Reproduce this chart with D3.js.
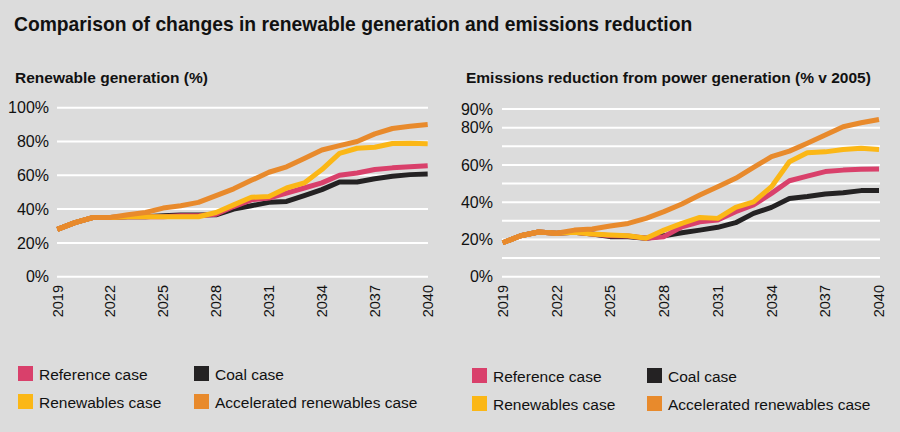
<!DOCTYPE html>
<html>
<head>
<meta charset="utf-8">
<script src="https://cdn.jsdelivr.net/npm/d3@7"></script>
<style>
  body { margin: 0; background: #dcdcdc; }
  svg { display: block; font-family: "Liberation Sans", Arial, Helvetica, sans-serif; }
</style>
</head>
<body>
<svg id="chart" width="900" height="432"></svg>
<script>
// years on the x axis
var years = [2019, 2020, 2021, 2022, 2023, 2024, 2025, 2026, 2027, 2028, 2029,
             2030, 2031, 2032, 2033, 2034, 2035, 2036, 2037, 2038, 2039, 2040];
var yearTicks = [2019, 2022, 2025, 2028, 2031, 2034, 2037, 2040];

// Renewable generation (%)
var genCoal        = [28, 32, 35, 35, 35.5, 35.5, 36, 36.5, 36.5, 36.6, 40, 42, 44, 44.5, 48, 51.5, 56, 56, 58, 59.4, 60.4, 60.8];
var genReference   = [28, 32, 35, 35, 35.5, 35.5, 35.5, 36, 36, 37, 41.5, 45.5, 46.5, 49.5, 52.5, 55.5, 60, 61.4, 63.4, 64.4, 65, 65.7];
var genRenewables  = [28, 32, 35, 35, 35.5, 35.5, 35.5, 35.5, 35.5, 38, 42.5, 47, 47.5, 52.5, 55.5, 63.4, 73, 76, 76.6, 78.8, 79, 78.6];
var genAccelerated = [28, 32, 35, 35, 36.6, 38, 40.6, 42, 44, 48, 52, 57, 61.8, 65, 70, 75, 77.6, 80, 84.5, 87.7, 89, 90];

// Emissions reduction from power generation (% v 2005)
var emCoal        = [18.2, 22, 24, 23.3, 23.8, 22.9, 21.5, 21.5, 20.6, 22, 23.6, 25, 26.5, 29, 34, 37.2, 42, 43, 44.4, 45, 46.2, 46.2];
var emReference   = [18.2, 22, 24, 23.3, 23.8, 22.9, 22, 21.8, 20.6, 21.5, 26.8, 29.5, 30.4, 34.9, 38.5, 44.7, 51.5, 54, 56.4, 57.2, 57.6, 57.8];
var emRenewables  = [18.2, 22, 24, 23.3, 23.8, 22.9, 22.4, 22, 20.6, 25, 28.6, 31.8, 31.3, 37.2, 40.2, 48.3, 61.7, 66.5, 67, 68.3, 68.9, 68.3];
var emAccelerated = [18.2, 22, 24, 23.3, 25, 25.6, 27.2, 28.6, 31.3, 34.9, 39, 43.8, 48.3, 52.8, 58.7, 64.4, 67.4, 71.6, 76, 80.5, 82.6, 84.4];

// tick labels / gridlines
var genGrid = [0, 20, 40, 60, 80, 100];
var genLabels = [0, 20, 40, 60, 80, 100];
var emGrid = [0, 10, 20, 30, 40, 50, 60, 70, 80, 90];
var emLabels = [0, 20, 40, 60, 80, 90];

var seriesNames = ["Coal case", "Reference case", "Renewables case", "Accelerated renewables case"];
var colors = {
    "Reference case": "#d9406b",
    "Coal case": "#242223",
    "Renewables case": "#fbb716",
    "Accelerated renewables case": "#e88a2c"
};
var legendOrder = [["Reference case", "Coal case"], ["Renewables case", "Accelerated renewables case"]];

var svg = d3.select("#chart");

// main title
svg.append("text")
    .attr("x", 14)
    .attr("y", 31)
    .style("font-size", "19.3px")
    .style("font-weight", "bold")
    .attr("fill", "#111")
    .text("Comparison of changes in renewable generation and emissions reduction");

function drawPanel(opts) {
    var x = d3.scaleLinear().domain([2019, 2040]).range(opts.xRange);
    var y = d3.scaleLinear().domain([0, opts.yMax]).range([276.7, opts.yTop]);

    var g = svg.append("g");

    // subtitle
    g.append("text")
        .attr("x", opts.titleX)
        .attr("y", 83)
        .style("font-size", "15.5px")
        .style("font-weight", "bold")
        .attr("fill", "#111")
        .text(opts.title);

    // gridlines
    g.selectAll(".grid")
        .data(opts.grid)
        .enter().append("line")
        .attr("x1", opts.gridX[0])
        .attr("x2", opts.gridX[1])
        .attr("y1", d => y(d))
        .attr("y2", d => y(d))
        .attr("stroke", "#fff")
        .attr("stroke-width", 2);

    // y tick labels
    g.selectAll(".ylab")
        .data(opts.labels)
        .enter().append("text")
        .attr("x", opts.labelX)
        .attr("y", d => y(d))
        .attr("dy", "0.35em")
        .attr("text-anchor", "end")
        .style("font-size", "16px")
        .attr("fill", "#111")
        .text(d => d + "%");

    // x tick labels, rotated
    g.selectAll(".xlab")
        .data(yearTicks)
        .enter().append("text")
        .attr("transform", d => "translate(" + x(d) + ",285) rotate(-90)")
        .attr("dy", "0.36em")
        .attr("text-anchor", "end")
        .style("font-size", "14.5px")
        .attr("fill", "#111")
        .text(d => d);

    // lines
    var line = d3.line()
        .x((d, i) => x(years[i]))
        .y(d => y(d));

    seriesNames.forEach(function (name, k) {
        g.append("path")
            .datum(opts.series[k])
            .attr("d", line)
            .attr("fill", "none")
            .attr("stroke", colors[name])
            .attr("stroke-width", 5)
            .attr("stroke-linejoin", "round");
    });

    // legend
    legendOrder.forEach(function (row, r) {
        row.forEach(function (name, c) {
            var lx = opts.legendX[c];
            var ly = opts.legendY[r];
            g.append("rect")
                .attr("x", lx)
                .attr("y", ly - 14)
                .attr("width", 15)
                .attr("height", 15)
                .attr("fill", colors[name]);
            g.append("text")
                .attr("x", lx + 21)
                .attr("y", ly)
                .style("font-size", "15.5px")
                .attr("fill", "#111")
                .text(name);
        });
    });
}

drawPanel({
    title: "Renewable generation (%)",
    titleX: 15,
    xRange: [57.3, 427.7],
    yMax: 100,
    yTop: 107.7,
    grid: genGrid,
    labels: genLabels,
    gridX: [57, 428],
    labelX: 49,
    series: [genCoal, genReference, genRenewables, genAccelerated],
    legendX: [18, 194],
    legendY: [380, 408]
});

drawPanel({
    title: "Emissions reduction from power generation (% v 2005)",
    titleX: 466,
    xRange: [502.7, 879],
    yMax: 90,
    yTop: 109,
    grid: emGrid,
    labels: emLabels,
    gridX: [502, 880],
    labelX: 493,
    series: [emCoal, emReference, emRenewables, emAccelerated],
    legendX: [472, 647],
    legendY: [382, 410]
});
</script>
</body>
</html>
